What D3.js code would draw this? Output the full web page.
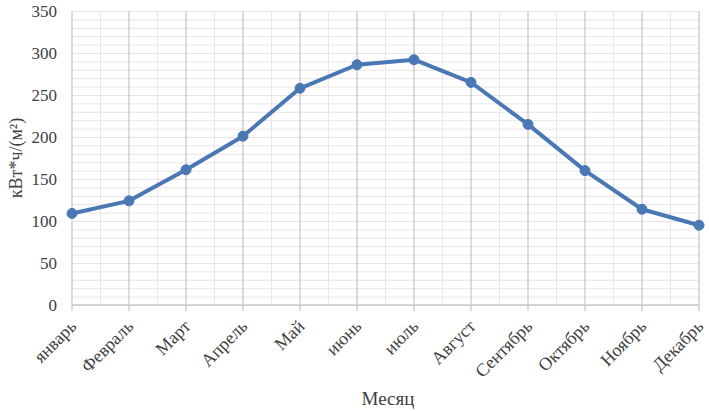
<!DOCTYPE html>
<html><head><meta charset="utf-8">
<script src="https://cdn.jsdelivr.net/npm/d3@7"></script>
<style>body{margin:0;background:#fff}svg{display:block}</style>
</head><body>
<svg id="c" width="709" height="411"></svg>
<script>
const months = ["январь","Февраль","Март","Апрель","Май","июнь","июль","Август","Сентябрь","Октябрь","Ноябрь","Декабрь"];
const values = [109,124,161,201,258,286,292,265,215,160,114,95];
const yTicks = [0,50,100,150,200,250,300,350];
const yTitle = "кВт*ч/(м²)";
const xTitle = "Месяц";

const svg = d3.select("#c");
const font = "'Liberation Serif','Times New Roman',serif";
const x = d3.scalePoint().domain(months).range([72,699]);
const y = d3.scaleLinear().domain([0,350]).range([305,11]);
const step = x.step();

const g = svg.append("g");
const minorY = d3.range(0,351,10);
g.selectAll(".hm").data(minorY).enter().append("line")
  .attr("x1",72).attr("x2",699).attr("y1",d=>y(d)+0.5).attr("y2",d=>y(d)+0.5)
  .attr("stroke","#e6e6e6").attr("stroke-width",1);
g.selectAll(".vm").data(months.slice(0,-1)).enter().append("line")
  .attr("x1",d=>x(d)+step/2).attr("x2",d=>x(d)+step/2).attr("y1",y(350)).attr("y2",y(0))
  .attr("stroke","#e6e6e6").attr("stroke-width",1);
g.selectAll(".vM").data(months).enter().append("line")
  .attr("x1",d=>x(d)).attr("x2",d=>x(d)).attr("y1",y(350)).attr("y2",y(0)+6)
  .attr("stroke","#c8c8c8").attr("stroke-width",1.3);
g.append("line").attr("x1",72).attr("x2",699).attr("y1",y(0)).attr("y2",y(0))
  .attr("stroke","#c8c8c8").attr("stroke-width",1.3);

svg.append("g").selectAll("text").data(yTicks).enter().append("text")
  .attr("x",57).attr("y",d=>y(d)).attr("dy","0.35em").attr("text-anchor","end")
  .attr("font-family",font).attr("font-size",17).attr("fill","#404040").text(d=>d);

svg.append("g").selectAll("text").data(months).enter().append("text")
  .attr("transform",d=>`translate(${x(d)+1},${323}) rotate(-45)`)
  .attr("text-anchor","end").attr("dy","0.35em")
  .attr("font-family",font).attr("font-size",18).attr("fill","#404040").text(d=>d);

svg.append("text").attr("x",388).attr("y",405).attr("text-anchor","middle")
  .attr("font-family",font).attr("font-size",19).attr("fill","#404040").text(xTitle);
svg.append("text").attr("transform","translate(22,158) rotate(-90)").attr("text-anchor","middle")
  .attr("font-family",font).attr("font-size",18).attr("fill","#404040").text(yTitle);

const color = "#4a78b5";
svg.append("path").datum(values)
  .attr("d",d3.line().x((d,i)=>x(months[i])).y(d=>y(d)))
  .attr("fill","none").attr("stroke",color).attr("stroke-width",4).attr("stroke-linejoin","round");
svg.append("g").selectAll("circle").data(values).enter().append("circle")
  .attr("cx",(d,i)=>x(months[i])).attr("cy",d=>y(d)).attr("r",5)
  .attr("fill",color).attr("stroke",color).attr("stroke-width",1);
</script>
</body></html>
